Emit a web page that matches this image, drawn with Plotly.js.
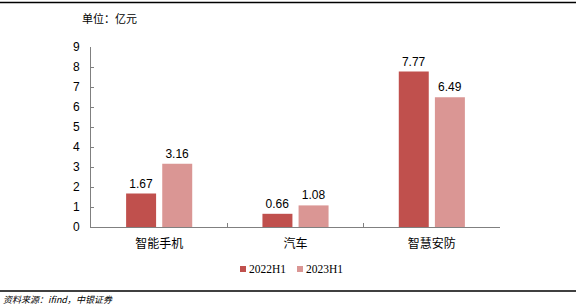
<!DOCTYPE html>
<html><head><meta charset="utf-8">
<script src="https://cdn.plot.ly/plotly-3.0.1.min.js"></script>
<style>html,body{margin:0;padding:0;background:#fff}#chart{width:576px;height:308px}</style>
</head><body><div id="chart"></div>
<script>
const categories = ['智能手机', '汽车', '智慧安防'];
const series2022 = [1.67, 0.66, 7.77];
const series2023 = [3.16, 1.08, 6.49];
const seriesNames = ['2022H1', '2023H1'];
const seriesColors = ['#C0504D', '#DA9694'];
const yTicks = [0,1,2,3,4,5,6,7,8,9];

const L = 91, R = 500, T = 47, B = 227;
const pw = R - L, ph = B - T;
const px = x => (x - L) / pw;
const py = y => (B - y) / ph;

const labelFont = {family: 'Liberation Sans, Arial, sans-serif', size: 12, color: '#000'};
const traces = [series2022, series2023].map((vals, i) => ({
  type: 'bar', name: seriesNames[i], x: categories, y: vals,
  marker: {color: seriesColors[i]}, text: vals.map(v => v.toFixed(2)),
  textposition: 'outside', textfont: labelFont, cliponaxis: false, hoverinfo: 'none'
}));

// legend drawn manually (compact, like the reference)
const legendX = [240, 297];
const legendY = 269;
const legendShapes = legendX.map((x, i) => ({
  type: 'rect', xref: 'paper', yref: 'paper',
  x0: px(x), x1: px(x + 6), y0: py(legendY + 3), y1: py(legendY - 3),
  fillcolor: seriesColors[i], line: {width: 0}
}));
const legendAnns = legendX.map((x, i) => ({
  text: seriesNames[i], xref: 'paper', yref: 'paper', x: px(x + 7), y: py(legendY),
  xanchor: 'left', yanchor: 'middle', showarrow: false,
  font: {family: 'Liberation Serif, Times New Roman, serif', size: 11.5, color: '#000'}
}));

const layout = {
  width: 576, height: 308,
  margin: {l: L, r: 576 - R, t: T, b: 308 - B},
  paper_bgcolor: '#fff', plot_bgcolor: '#fff',
  barmode: 'group', bargap: 0.47, bargroupgap: 0.17,
  showlegend: false,
  xaxis: {
    type: 'category', showline: true, linecolor: '#808080', linewidth: 1,
    ticks: 'inside', tickson: 'boundaries', ticklen: 4, tickcolor: '#808080',
    showgrid: false, zeroline: false,
    tickfont: {family: 'Noto Sans CJK SC, sans-serif', size: 12, color: '#000'},
    ticklabelstandoff: 6
  },
  yaxis: {
    range: [0, 9], tickvals: yTicks, ticktext: yTicks.map(String),
    showline: true, linecolor: '#808080', linewidth: 1,
    ticks: 'inside', ticklen: 3, tickcolor: '#808080',
    showgrid: false, zeroline: false,
    tickfont: {family: 'Liberation Sans, Arial, sans-serif', size: 12, color: '#000'},
    ticklabelstandoff: 8
  },
  annotations: [
    {text: '单位：亿元', xref: 'paper', yref: 'paper', x: px(80), y: py(18),
     xanchor: 'left', yanchor: 'middle', showarrow: false,
     font: {family: 'Noto Sans CJK SC, sans-serif', size: 11, color: '#000'}},
    {text: '<i>资料来源：ifind，中银证券</i>', xref: 'paper', yref: 'paper', x: px(1), y: py(299),
     xanchor: 'left', yanchor: 'middle', showarrow: false,
     font: {family: 'Noto Sans CJK SC, sans-serif', size: 9, color: '#000'}}
  ].concat(legendAnns),
  shapes: [
    {type: 'line', xref: 'paper', yref: 'paper', x0: px(0), x1: px(576), y0: py(2.5), y1: py(2.5),
     line: {color: '#000', width: 1.5}},
    {type: 'line', xref: 'paper', yref: 'paper', x0: px(0), x1: px(576), y0: py(291), y1: py(291),
     line: {color: '#000', width: 1.5}}
  ].concat(legendShapes)
};

Plotly.newPlot('chart', traces, layout, {staticPlot: true, displayModeBar: false});
</script></body></html>
